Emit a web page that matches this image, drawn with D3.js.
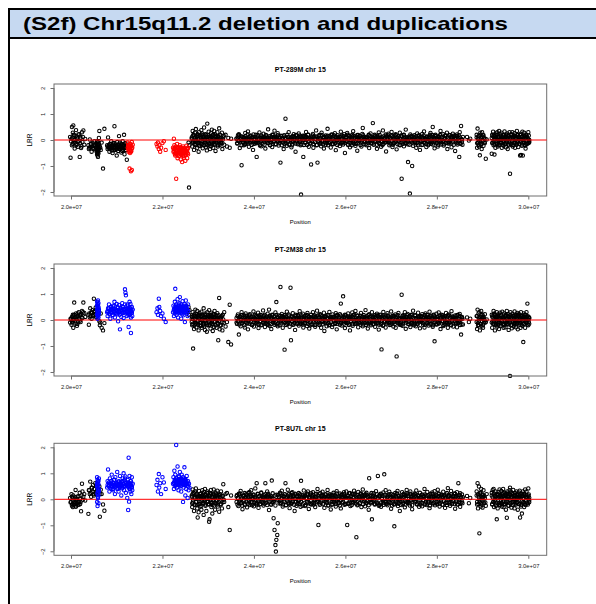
<!DOCTYPE html>
<html><head><meta charset="utf-8">
<script src="https://cdn.jsdelivr.net/npm/d3@7"></script>
<style>body{margin:0;background:#fff}svg{display:block}</style>
</head><body>
<script>
// ---------------- data ----------------
const figureTitle = "(S2f) Chr15q11.2 deletion and duplications";
const panelTitles = ["PT-289M chr 15", "PT-2M38 chr 15", "PT-8U7L chr 15"];
const xTicks = [2.0e7, 2.2e7, 2.4e7, 2.6e7, 2.8e7, 3.0e7];
const xTickLabels = ["2.0e+07", "2.2e+07", "2.4e+07", "2.6e+07", "2.8e+07", "3.0e+07"];
const yTicks = [-2, -1, 0, 1, 2];
const xLabel = "Position";
const yLabel = "LRR";

// SNP probe positions (Mb), grouped by probe block along chr15
const positionsMb = [
 [19.98,19.99,20.01,20.02,20.02,20.04,20.05,20.05,20.07,20.08,20.1,20.11,20.12,20.13,20.15,20.16,20.17,20.19,20.2,20.22,20.24,20.25,20.27,20.29,20.31],
 [20.38,20.39,20.41,20.42,20.44,20.45,20.47,20.48,20.5,20.51,20.53,20.54,20.55,20.56,20.57,20.57,20.57,20.58,20.58,20.58,20.58,20.59,20.59,20.59,20.6,20.6,20.6,20.61,20.61,20.62,20.63,20.65,20.67,20.7,20.73],
 [20.79,20.8,20.81,20.83,20.84,20.85,20.86,20.88,20.89,20.9,20.91,20.92,20.94,20.95,20.96,20.97,20.98,21.0,21.01,21.02,21.03,21.04,21.05,21.06,21.07,21.09,21.1,21.11,21.12,21.13,21.14,21.15,21.16,21.17,21.18,21.19,21.2,21.21,21.22,21.23,21.24,21.25,21.26,21.26,21.27,21.28,21.29,21.29,21.3,21.31,21.31,21.32,21.33,21.33,21.34,21.35],
 [21.87,21.89,21.9,21.92,21.93,21.95,21.97,22.0,22.03,22.07],
 [22.23,22.24,22.25,22.26,22.27,22.27,22.28,22.29,22.3,22.3,22.31,22.32,22.33,22.33,22.34,22.35,22.36,22.37,22.37,22.38,22.39,22.4,22.41,22.41,22.42,22.43,22.44,22.45,22.45,22.46,22.47,22.48,22.49,22.5,22.5,22.51,22.52,22.53,22.54,22.55,22.56,22.56,22.57,22.58,22.59],
 [22.64,22.65,22.66,22.67,22.68,22.69,22.7,22.71,22.72,22.73,22.74,22.75,22.76,22.77,22.78,22.79,22.8,22.81,22.82,22.83,22.84,22.85,22.86,22.87,22.88,22.89,22.9,22.91,22.92,22.93,22.94,22.95,22.96,22.97,22.98,23.0,23.01,23.02,23.03,23.04,23.05,23.06,23.07,23.08,23.09,23.1,23.11,23.12,23.13,23.14,23.15,23.16,23.18,23.19,23.2,23.21,23.22,23.24,23.25,23.27,23.28,23.3,23.31,23.33,23.35,23.38,23.41,23.44,23.47,23.5],
 [23.62,23.63,23.65,23.66,23.67,23.69,23.71,23.72,23.73,23.75,
  23.77,23.78,23.8,23.81,23.82,23.84,23.85,23.87,23.89,23.9,
  23.91,23.93,23.94,23.96,23.98,23.99,24.0,24.02,24.03,24.05,
  24.06,24.08,24.09,24.1,24.12,24.14,24.15,24.16,24.18,24.2,
  24.21,24.22,24.24,24.25,24.27,24.29,24.3,24.31,24.33,24.34,
  24.36,24.38,24.39,24.4,24.42,24.43,24.45,24.47,24.48,24.49,
  24.51,24.52,24.54,24.56,24.57,24.58,24.6,24.61,24.63,24.65,
  24.66,24.67,24.69,24.7,24.72,24.74,24.75,24.76,24.78,24.8,
  24.81,24.82,24.84,24.85,24.87,24.89,24.9,24.91,24.93,24.94,
  24.96,24.98,24.99,25.0,25.02,25.03,25.05,25.07,25.08,25.09,
  25.11,25.12,25.14,25.16,25.17,25.18,25.2,25.21,25.23,25.25,
  25.26,25.27,25.29,25.3,25.32,25.34,25.35,25.36,25.38,25.39,
  25.41,25.43,25.44,25.45,25.47,25.48,25.5,25.52,25.53,25.54,
  25.56,25.57,25.59,25.61,25.62,25.63,25.65,25.66,25.68,25.7,
  25.71,25.72,25.74,25.75,25.77,25.79,25.8,25.81,25.83,25.84,
  25.86,25.88,25.89,25.9,25.92,25.93,25.95,25.97,25.98,25.99,
  26.01,26.02,26.04,26.06,26.07,26.08,26.1,26.11,26.13,26.15,
  26.16,26.17,26.19,26.2,26.22,26.24,26.25,26.26,26.28,26.29,
  26.31,26.33,26.34,26.35,26.37,26.38,26.4,26.42,26.43,26.44,
  26.46,26.47,26.49,26.51,26.52,26.53,26.55,26.56,26.58,26.6,
  26.61,26.62,26.64,26.65,26.67,26.69,26.7,26.71,26.73,26.74,
  26.76,26.78,26.79,26.8,26.82,26.83,26.85,26.87,26.88,26.89,
  26.91,26.92,26.94,26.96,26.97,26.98,27.0,27.01,27.03,27.05,
  27.06,27.07,27.09,27.1,27.12,27.14,27.15,27.16,27.18,27.19,
  27.21,27.23,27.24,27.25,27.27,27.28,27.3,27.32,27.33,27.34,
  27.36,27.37,27.39,27.41,27.42,27.43,27.45,27.46,27.48,27.5,
  27.51,27.52,27.54,27.55,27.57,27.59,27.6,27.61,27.63,27.64,
  27.66,27.68,27.69,27.7,27.72,27.73,27.75,27.77,27.78,27.79,
  27.81,27.82,27.84,27.86,27.87,27.88,27.9,27.91,27.93,27.95,
  27.96,27.97,27.99,28.0,28.02,28.04,28.05,28.06,28.08,28.09,
  28.11,28.13,28.14,28.15,28.17,28.18,28.2,28.22,28.23,28.24,
  28.26,28.27,28.29,28.31,28.32,28.33,28.35,28.36,28.38,28.4,
  28.41,28.42,28.44,28.45,28.47,28.49,28.5,28.51,28.53,28.55,
  28.56,28.57],
 [28.66,28.7,28.73],
 [28.87,28.88,28.89,28.9,28.91,28.92,28.93,28.94,28.95,28.96,28.97,28.98,28.99,29.0,29.01,29.02,29.03,29.05,29.07,29.09],
 [29.2,29.21,29.22,29.23,29.24,29.25,29.26,29.27,29.28,29.29,
  29.3,29.31,29.32,29.33,29.34,29.35,29.36,29.37,29.38,29.39,
  29.4,29.41,29.42,29.43,29.44,29.45,29.46,29.47,29.48,29.49,
  29.5,29.51,29.52,29.53,29.54,29.55,29.56,29.57,29.58,29.59,
  29.6,29.61,29.62,29.63,29.64,29.65,29.66,29.67,29.68,29.69,
  29.7,29.71,29.72,29.73,29.74,29.75,29.76,29.77,29.78,29.79,
  29.8,29.81,29.82,29.83,29.84,29.85,29.86,29.87,29.88,29.89,
  29.9,29.91,29.92,29.93,29.94,29.95,29.96,29.98,30.0,30.02]
];

// log R ratio at SNP probes, PT-289M (same block order as positionsMb)
const lrr289M = [
 [.12,-.68,.05,.5,-.2,.28,.56,-.1,.18,-.33,.02,.38,-.15,.09,-.26,.21,-.05,-.65,.14,-.31,.3,-.08,.37,-.18,.04],
 [-.2,-.35,.02,-.28,-.15,-.45,-.1,-.3,-.22,-.05,-.4,-.18,-.3,-.12,-.05,-.55,-.25,-.38,-.6,-.15,-.48,-.3,-.65,-.08,-.42,-.2,-.52,-.33,.08,.35,-.25,-.38,-.1,-1.1,.43],
 [-.2,-.35,.1,-.28,-.45,-.15,-.3,-.05,-.4,-.22,-.5,-.12,-.33,.53,-.25,-.38,-.18,-.6,-.08,-.3,-.42,-.2,.15,-.35,-.1,-.27,-.48,-.15,-.32,-.05,-.38,-.22,.2,-.55,-.28,-.12,-.4,-.18,-.76,-.3,-.1,-.35,-.2,-.45,-.28,-1.1,-.15,-.5,-.38,-1.2,-.25,-.42,-.08,-1.15,-.3,-.18],
 [-.15,-.25,-.1,-.35,-.2,-.45,-.3,-.12,-.05,-.38],
 [-.3,-.45,.05,-.2,-.55,-.35,-.6,-.25,-1.49,-.4,-.5,-.15,-.38,-.7,-.28,-.45,-.62,-.32,-.52,-.2,-.42,-.75,-.3,-.55,-.48,-.85,-.36,-.6,-.25,-.44,-.68,-.33,-.5,-.8,-.4,-.58,-.22,-.46,-.7,-.35,-.55,-.3,-.1,-1.83,-.2],
 [.1,-.25,.35,-.1,.2,-.38,.05,.28,-.18,.42,-.05,.15,-.3,.22,.02,-.45,.3,-.12,.18,-.22,.08,.38,-.15,.25,-.32,.12,-.06,.48,-.2,.03,.2,-.28,.1,-.4,.63,-.08,.32,-.16,.14,-.35,.05,.26,-.22,.4,-.1,.18,-.3,.08,.35,-.14,.22,-.42,.12,-.02,.3,-.25,.15,.45,-.2,.06,-.12,.28,-.35,.1,-.18,.2,-.25,.08,-.3,.05],
 [.05,-.12,.18,-.03,.22,-.31,.09,.14,-.97,-.08,
  .11,-.2,.02,.27,-.15,.07,-.05,.33,-.26,.01,
  -.1,.16,-.02,.08,-.38,.21,.04,-.14,.12,-.07,
  -.65,.19,-.09,.03,.29,-.18,.06,-.24,.13,-.01,
  .24,-.06,.1,-.33,.17,.02,-.12,.41,-.04,.08,
  -.19,.13,0,-.27,.2,-.08,.36,.05,-.15,.11,
  -.03,.26,-.21,.09,-.11,-.87,.15,-.02,.07,-.35,
  .18,-.13,.82,.04,-.22,.12,-.06,.3,-.17,.01,
  .09,-.28,.14,-.04,.22,-.1,.06,-.45,.17,.03,
  -.16,.25,-.07,.11,-.2,-2.1,.08,.16,-.65,.02,
  .13,-.09,.31,-.18,.05,.2,-.26,.07,-.12,-.94,
  .1,-.04,.23,-.3,.14,-.08,.04,.37,-.19,-.87,
  .06,.19,-.14,.02,-.24,.28,-.05,.12,-.33,.08,
  -.02,.17,-.11,.43,-.2,.05,-.08,.15,-.29,.1,
  .21,-.15,.03,-.06,.26,-.39,.11,-.01,.18,-.13,
  .07,-.23,.14,.32,-.1,.04,-.17,.22,-.04,-.5,
  .12,-.07,.27,-.19,.01,.16,-.28,.09,-.12,.2,
  -.06,.34,-.14,.08,-.22,.13,.02,-.41,.19,-.03,
  .15,-.1,.05,-.25,.23,.46,-.16,.07,-.06,.11,
  -.2,.09,-.04,.18,-.31,.03,.25,-.12,.06,.65,
  .04,-.18,.2,-.07,.12,-.34,.16,-.02,.29,-.14,
  .08,-.26,.11,-.05,.37,-.15,.02,-.09,.21,-.44,
  .14,-.03,.24,-.2,.06,.1,-.13,.31,-.27,.05,
  -.11,.17,-.06,.22,-.36,.08,-.01,.13,-.19,.28,
  .03,-1.49,.15,-.08,.19,-.24,.07,.4,-.12,.01,
  -.16,-.85,.1,-2.06,.21,-.05,.12,-1.0,-.22,.09,
  .18,-.07,.02,-.3,.25,-.13,.06,.16,-.38,.11,
  -.04,.23,-.18,.08,.33,-.1,.01,-.27,.14,.05,
  -.2,.12,-.06,.27,-.15,.04,.19,.5,-.09,-.32,
  .07,.2,-.13,.02,-.25,.15,.09,-.04,.35,-.17,
  .1,-.08,.22,-.21,.03,.17,-.11,.28,-.35,.06,
  -.14,.18,-.03,.11,-.28,.07,.24,-.09,.13,-.42,
  .16,-.05,.21,-.17,.08,-.65,.3,-.12,.54,.02,
  -.18,.12],
 [.12,-.02,.05],
 [.2,-.3,.44,-.1,.15,-.25,.05,-.59,.28,-.18,.1,-.35,.3,-.05,.18,-.22,.08,-.12,-.72,.02],
 [-.53,.2,-.1,.32,-.2,.05,-.56,.15,-.3,.25,
  .08,-.15,.3,-.25,.12,-.05,.35,-.18,.02,.22,
  -.12,.28,-.3,.1,-.02,.18,-.22,.05,.33,-.15,
  .12,-.28,.2,-.08,.25,-.35,.06,.15,-.2,.3,
  -1.3,.1,-.16,.22,-.04,.3,-.25,.08,.18,-.12,
  .26,-.3,.05,.14,-.18,.35,-.08,.2,-.27,.1,
  .02,-.15,-.6,.24,-.58,.12,-.22,.32,-.6,.06,
  -.1,.28,-.2,.15,-.33,.2,.08,-.14,.3,-.05]
];

// log R ratio at SNP probes, PT-2M38
const lrr2M38 = [
 [-.1,.05,-.18,.12,-.05,.2,.02,-.3,.67,.1,-.14,.25,.04,-.22,.15,-.08,.3,.18,-.02,.22,.35,.08,.67,.27,.12],
 [.2,-.18,.1,.45,.28,.05,.38,.15,.82,.3,.22,.48,.12,.4,.55,.2,.7,.35,.05,.62,.45,.15,.75,.3,.5,.1,.65,.4,.25,-.05,-.2,.25,-.3,-.4,-.12],
 [.3,.15,.45,.6,.22,.38,.05,.5,.28,.42,.18,.55,.33,.7,.1,.4,.25,.62,.35,.48,-.05,.3,.58,.2,-.36,.45,.12,.38,.65,.27,.5,.08,.42,.3,1.18,1.05,.95,.35,.15,.6,.55,.2,.4,-.27,.25,.7,.45,.2,.62,.1,-.5,.35,.5,.28,.15,.4],
 [.3,.45,.2,.82,.5,.35,.15,.25,.05,-.08],
 [.3,.55,.15,.42,.7,.25,1.2,.5,.35,.6,.2,.45,.8,.38,.1,.55,.28,.65,.4,.88,.5,.32,.05,.6,.45,.22,.72,.35,.52,.18,.4,.62,-.08,.48,.3,.75,.55,.25,.42,.15,.6,.35,.5,.2,.38],
 [.05,-.2,.3,-1.1,.15,-.35,.22,-.08,.4,-.15,-.28,.12,.35,-.05,.18,-.4,.08,.27,-.22,.14,-.1,.32,-.3,.02,.2,-.18,.45,-.25,.1,-.38,.25,-.12,.06,-.45,.3,.13,-.2,.38,-.06,.17,-.33,.09,.28,-.15,.04,-.42,.22,.11,-.27,.35,-.08,.19,-.3,.07,.26,-.14,-.78,.85,-.36,.1,-.2,.15,-.4,.02,.3,-.25,-.08,-.85,.59,-.94],
 [.08,-.15,.21,-.06,-.56,.13,-.24,.02,.3,-.11,
  -.03,.18,-.29,.09,.25,-.12,.05,-.36,.14,.01,
  .22,-.07,.11,-.19,.04,.33,-.25,.07,-.02,.16,
  -.14,.06,.28,-.31,.12,-.05,.19,-.2,.03,.37,
  -.09,.15,-.27,.1,.01,-.16,.24,-.04,.4,-.22,
  .13,-.35,.07,.2,-.1,.02,-.18,.29,-.06,.69,
  .11,-.24,.17,-.02,.06,1.27,-.13,.23,-.3,.09,
  -.07,-1.14,.14,-.19,.32,.04,-.11,.21,-.26,1.24,
  -.78,.12,-.05,.26,-.17,.08,-.38,.15,.03,-.1,
  .19,-.21,.06,.34,-.08,-.14,.1,.24,-.29,.05,
  -.12,.16,.02,-.23,.27,-.04,.13,-.33,.08,.2,
  -.16,.05,.3,-.09,.18,-.26,.11,-.02,.36,-.14,
  .07,-.19,.23,.01,-.3,.15,-.07,.09,.28,-.42,
  .14,-.05,-.24,.19,.04,-.12,.31,-.18,.06,.1,
  -.27,.21,-.03,.12,-.15,.26,.02,-.36,.17,-.08,
  .05,.22,-.13,.63,-.21,.09,.91,-.06,.14,-.31,
  .18,-.1,.03,.25,-.17,.07,-.4,.12,-.04,.29,
  -.22,.11,.2,-.07,.35,-.14,.01,.16,-.28,.06,
  .09,-.18,.27,-.03,.13,-.24,.19,.04,-.12,.38,
  -.06,.15,-.33,.1,.22,-.09,.03,-.2,.3,-.15,
  .12,-.04,.18,-.26,.07,.24,-.11,.14,-.37,.02,
  .2,-.16,-1.13,.08,-.22,.31,-.05,.13,-.29,.17,
  -.1,.26,-.02,.11,-.19,.04,.33,-.14,.07,-.25,
  .16,-.08,.21,-.3,-1.4,.12,-.03,.27,-.17,.06,
  -.12,.97,.1,-.22,.18,-.06,.3,-.34,.09,.02,
  .23,-.15,.05,.14,-.27,.19,-.01,-.09,.36,-.2,
  .04,.17,-.24,.08,-.13,.28,-.05,.11,-.32,.15,
  -.07,.22,.01,-.18,.13,-.29,.25,.06,-.11,.19,
  .1,-.21,.32,-.04,.16,-.14,.07,-.26,.2,-.82,
  .14,-.09,.24,-.17,.03,.29,-.12,.08,-.35,.11,
  -.05,.18,-.23,.13,.02,-.16,.27,-.08,.15,-.3,
  .21,-.11,.06,-.2,.34,-.03,.12,-.25,.09,.17,
  -.14,.07,-.28,.19,.04,-.1,.23,-.19,-.56,.12,
  .05,-.17],
 [.1,-.08,.05],
 [.15,-.35,.4,-.2,.25,-.05,.3,-.4,.1,-.15,.35,-.25,.05,.2,-.3,.12,-.1,.22,-.08,.02],
 [.2,-.3,.1,-.15,.35,-.05,.25,-.4,.12,-.2,
  .05,.3,-.25,.15,-.1,.22,-.35,.08,.28,-.12,
  .18,-.22,.02,.32,-.18,.1,-.3,.25,-.05,.14,
  -.28,.2,-.08,.35,-.15,.06,.22,-.38,.12,-.02,
  -2.15,.3,-.2,.1,-.32,.24,-.06,.16,-.25,.08,
  .33,-.12,.05,-.28,.2,-.1,.27,-.36,.14,-.04,
  .22,-.18,.1,-.3,.3,-.08,.15,-.22,.06,-.85,
  .25,-.14,.12,-.3,.2,-.05,.3,.63,-.2,.1]
];

// log R ratio at SNP probes, PT-8U7L
const lrr8U7L = [
 [.05,-.12,.2,-.25,.1,-.3,-.05,.15,-.2,-.1,.36,-.28,-.15,.02,-.22,.12,-.08,.25,-.18,-.46,.6,.3,.1,.2,-.05],
 [-.56,.35,.2,.68,.1,.45,.28,.55,.15,.4,.62,.22,.5,.3,.85,-.1,.6,.25,.75,-.26,.45,.05,.7,.35,-.15,.58,.15,.8,.4,.5,-.67,.37,.2,-.2,-.44],
 [.45,.7,1.15,.55,.3,.8,.6,.4,.95,.5,.65,.35,.75,.55,.2,.85,.5,.62,1.05,.4,.58,.3,.7,.45,.9,.52,.15,.68,.42,.8,.6,1.0,.35,.72,.5,.88,.25,.65,.55,.05,.75,-.41,.48,1.6,-.09,.9,.4,.62,.3,.7,.55,.2,.85,.45,.35,.6],
 [.55,.75,.3,.97,.45,.62,.2,.85,.65,.4],
 [.6,.85,.4,1.1,.7,.5,.95,.65,2.09,.55,.8,.45,1.26,.6,.75,.35,.9,.55,.7,1.05,.5,.8,.65,.3,.95,.6,.72,-.1,.85,.45,.68,1.23,.55,.15,.78,.62,.4,.9,.58,.05,.7,.5,.35,.6,.45],
 [.15,-.3,.38,-.12,.25,-.45,.08,.3,-.22,.42,-.1,.2,-.35,-.7,.05,-.5,.32,-.18,.12,-.28,.22,-.4,.1,.35,-.15,.02,-.6,.28,-.08,.4,-.25,.16,-.45,.06,.3,-.2,.14,-.86,-.77,.24,-.12,.36,-.3,.1,-.55,.2,-.05,.38,-.24,.12,-.4,.26,-.15,.05,.33,-.28,.18,-.48,.09,-.2,.3,-.35,.12,.58,-.1,.2,.24,-.3,-1.18,.15],
 [-.1,.17,.04,-.26,.21,-.05,.32,-.15,.08,-.38,
  .13,-.02,.24,-.19,.06,.15,-.31,.1,-.07,.28,
  -.22,.09,.35,-.12,.01,.19,-.27,.05,.42,-.16,
  .62,-.08,.2,-.33,.12,.03,-.18,.26,-.04,.11,
  -.24,.16,.07,.62,-.13,.3,-.06,.21,-.41,.09,
  .14,-.2,.72,.05,-.1,-.73,-1.18,-1.76,-2.01,-1.56,
  -1.37,-.92,.18,-.07,.25,-.15,.04,.33,-.28,.12,
  -.05,.2,.62,-.22,.09,.37,-.13,.02,-.34,.16,
  .08,-.17,.27,-.09,.14,-.45,.21,.03,-.25,.1,
  -.12,.24,-.03,.18,-.29,.71,.11,-.19,.06,.34,
  .15,-.26,.04,.22,-.11,.3,-.37,.08,.17,-.06,
  -.2,.12,.27,-.14,.03,-.3,.19,.09,-.08,.4,
  -.99,.07,-.21,.23,.13,-.04,.29,-.16,.05,-.33,
  .18,-.1,.02,.36,-.24,.11,-.07,.2,-.39,.14,
  .06,-.18,.25,-.02,.16,-.28,.09,.31,-.13,.01,
  -.15,.22,.1,-.35,.04,.19,-.09,.27,-.21,.13,
  .08,.3,-.99,.14,-.17,.05,.24,-.26,.11,-.03,
  .2,-.12,.33,-.07,.16,-1.46,.02,-.23,.28,.1,
  -.16,.07,.21,-.3,.12,.38,-.05,.17,-.27,.04,
  .25,-.14,.09,-.4,.81,.02,.18,-.11,-.77,.13,
  -.06,.23,-.2,.1,.31,-.15,.04,.9,-.25,.16,
  .12,-.29,.19,.01,-.13,.26,.96,-.08,.35,-.18,
  .07,-.23,.14,.29,-.1,.03,-.36,.2,-.04,.17,
  -.19,-1.04,.24,-.12,.08,.32,-.26,.15,-.02,-.45,
  .11,-.07,.27,-.18,.05,.21,-.31,.13,-.09,.36,
  -.14,.19,.02,-.24,.3,-.06,.12,-.38,.17,.04,
  .22,-.11,.08,.34,-.2,.14,-.03,-.29,.25,-.15,
  .1,-.27,.18,-.05,.13,.4,-.17,.06,-.22,.28,
  -.08,.16,-.34,.21,.03,-.13,.26,-.19,.09,.31,
  -.23,.12,.05,-.16,.37,-.09,.2,-.28,.15,-.02,
  .18,-.21,.29,-.06,.11,-.33,.07,.24,-.14,.43,
  -.1,.15,-.25,.32,.04,-.18,.13,-.07,.22,-.36,
  .09,-.12,.27,-.2,.62,-.03,.16,-.29,.1,.19,
  -.15,.08],
 [.13,-.15,.05],
 [.3,-.2,.62,-.35,.15,.49,-1.31,-.1,.25,-.28,.4,-.05,.18,-.32,.1,.35,-.15,.05,-.25,.2],
 [.25,-.2,.35,-.1,.4,-.3,.15,-.05,.3,-.25,
  .1,-.77,.2,-.35,.05,.28,-.15,.38,-.22,.12,
  -.08,.32,-.28,.18,-.12,.4,-.3,.08,.25,-.18,
  .14,-.4,.22,-.71,.3,-.1,.2,-.25,.06,.35,
  .45,-.15,.28,-.32,.1,.2,-.22,.36,-.05,.15,
  -.35,.24,.02,-.2,.3,-.12,.18,-.4,.1,.26,
  -.18,.33,-.7,.05,-.28,.22,-.55,.12,.3,-.1,
  .2,-.3,.15,.38,-.22,.08,.3,-.15,.42,-.05]
];

// copy-number-only probe positions (Mb), second probe set of the array
const cnPositionsMb = [
 [20.0,20.03,20.04,20.06,20.07,20.09,20.1,20.12,20.14,20.15,20.18,20.2,20.21,20.23,20.26],
 [20.4,20.43,20.46,20.49,20.52,20.56,20.57,20.58,20.58,20.59,20.59,20.6,20.6,20.61,20.64],
 [20.8,20.82,20.83,20.85,20.87,20.87,20.88,20.9,20.91,20.93,20.94,20.95,20.97,20.99,21.0,21.01,21.03,21.04,21.06,21.08,21.08,21.1,21.12,21.13,21.15,21.16,21.18,21.19,21.2,21.22,21.24,21.25,21.26,21.27,21.28,21.29,21.3,21.31,21.32,21.33],
 [22.25,22.26,22.27,22.28,22.29,22.3,22.31,22.32,22.33,22.34,22.35,22.36,22.37,22.38,22.39,22.4,22.41,22.42,22.43,22.44,22.45,22.46,22.47,22.48,22.49,22.5,22.51,22.52,22.53,22.55],
 [22.64,22.65,22.66,22.67,22.68,22.7,22.71,22.72,22.73,22.75,22.76,22.77,22.78,22.79,22.8,22.82,22.83,22.84,22.85,22.86,22.87,22.89,22.9,22.91,22.92,22.93,22.94,22.96,22.97,22.98,22.99,23.0,23.01,23.02,23.04,23.05,23.06,23.07,23.08,23.09,23.11,23.12,23.13,23.14,23.15,23.16,23.17,23.18,23.2,23.21,23.22,23.23,23.24,23.25,23.26,23.28,23.29,23.31,23.32,23.34],
 [23.62,23.64,23.65,23.67,23.68,23.7,23.71,23.73,23.74,23.76,
  23.77,23.79,23.8,23.82,23.83,23.84,23.86,23.87,23.88,23.9,
  23.92,23.93,23.95,23.96,23.97,23.99,24.01,24.02,24.04,24.05,
  24.07,24.08,24.1,24.11,24.13,24.14,24.16,24.17,24.19,24.2,
  24.22,24.23,24.25,24.26,24.28,24.29,24.31,24.32,24.34,24.35,
  24.37,24.38,24.4,24.41,24.43,24.44,24.46,24.47,24.49,24.5,
  24.52,24.53,24.55,24.56,24.58,24.59,24.61,24.62,24.64,24.65,
  24.67,24.68,24.7,24.71,24.73,24.74,24.76,24.77,24.79,24.8,
  24.82,24.83,24.85,24.86,24.88,24.89,24.91,24.92,24.94,24.95,
  24.97,24.98,25.0,25.01,25.03,25.04,25.06,25.07,25.09,25.1,
  25.12,25.13,25.15,25.16,25.18,25.19,25.21,25.22,25.24,25.25,
  25.27,25.28,25.3,25.31,25.33,25.34,25.36,25.37,25.39,25.4,
  25.42,25.43,25.45,25.46,25.48,25.49,25.51,25.52,25.54,25.55,
  25.57,25.58,25.6,25.61,25.63,25.64,25.66,25.67,25.69,25.7,
  25.72,25.73,25.75,25.76,25.78,25.79,25.81,25.82,25.84,25.85,
  25.87,25.88,25.9,25.91,25.93,25.94,25.96,25.97,25.99,26.0,
  26.02,26.03,26.05,26.06,26.08,26.09,26.11,26.12,26.14,26.15,
  26.17,26.18,26.2,26.21,26.23,26.24,26.26,26.27,26.29,26.3,
  26.32,26.33,26.35,26.36,26.38,26.39,26.41,26.42,26.44,26.45,
  26.47,26.48,26.5,26.51,26.53,26.54,26.56,26.57,26.59,26.6,
  26.62,26.63,26.65,26.66,26.68,26.69,26.71,26.72,26.74,26.75,
  26.77,26.78,26.8,26.81,26.83,26.84,26.86,26.87,26.89,26.9,
  26.92,26.93,26.95,26.96,26.98,26.99,27.01,27.02,27.04,27.05,
  27.07,27.08,27.1,27.11,27.13,27.14,27.16,27.17,27.19,27.2,
  27.22,27.23,27.25,27.26,27.28,27.29,27.31,27.32,27.34,27.35,
  27.37,27.38,27.4,27.41,27.43,27.44,27.46,27.47,27.49,27.5,
  27.52,27.53,27.55,27.56,27.58,27.59,27.61,27.62,27.64,27.65,
  27.67,27.68,27.7,27.71,27.73,27.74,27.76,27.77,27.79,27.8,
  27.82,27.83,27.85,27.86,27.88,27.89,27.91,27.92,27.94,27.95,
  27.97,27.98,28.0,28.01,28.03,28.04,28.06,28.07,28.09,28.1,
  28.12,28.13,28.15,28.16,28.18,28.19,28.21,28.22,28.24,28.25,
  28.27,28.28,28.3,28.31,28.33,28.34,28.36,28.37,28.39,28.4,
  28.42,28.43,28.45,28.46,28.48,28.49,28.51,28.52,28.54,28.55],
 [28.87,28.88,28.9,28.91,28.92,28.93,28.95,28.96,28.97,28.98,29.0,29.01,29.02,29.04,29.06],
 [29.2,29.21,29.22,29.24,29.25,29.26,29.27,29.29,29.3,29.31,
  29.32,29.34,29.35,29.36,29.37,29.39,29.4,29.41,29.42,29.44,
  29.45,29.46,29.47,29.49,29.5,29.51,29.52,29.54,29.55,29.56,
  29.57,29.59,29.6,29.61,29.62,29.64,29.65,29.66,29.67,29.69,
  29.7,29.71,29.72,29.74,29.75,29.76,29.77,29.79,29.8,29.81,
  29.82,29.84,29.85,29.86,29.87,29.89,29.9,29.91,29.92,29.94,
  29.95,29.96,29.97,29.98,29.99,30.0,30.01,30.01,30.02,30.02]
];

const cnLrr289M = [
 [-.05,.1,-.15,.2,0,-.1,.15,-.2,.05,-.08,.22,-.12,.08,-.25,.12],
 [-.3,-.15,-.25,-.35,-.2,-.3,-.4,-.2,-.5,-.3,-.45,-.25,-.35,-.15,-.3],
 [-.25,-.3,-.2,-.35,-.15,-.28,-.22,-.32,-.18,-.4,-.26,-.12,-.3,-.24,-.36,-.2,-.28,-.16,-.34,-.22,-.3,-.18,-.42,-.25,-.2,-.32,-.14,-.27,-.38,-.23,-.3,-.2,-.35,-.25,-.4,-.15,-.3,-.45,-.22,-.32],
 [-.35,-.45,-.3,-.5,-.4,-.55,-.38,-.42,-.6,-.32,-.48,-.36,-.52,-.44,-.28,-.46,-.4,-.58,-.34,-.5,-.42,-.62,-.38,-.45,-.3,-.55,-.4,-.48,-.35,-.5],
 [.05,-.1,.15,-.05,.2,-.15,.1,-.2,0,.12,-.08,.18,-.12,.06,-.22,.14,-.04,.1,-.16,.2,-.06,.08,-.18,.16,.02,-.1,.22,-.14,.04,-.2,.12,-.02,.18,-.12,.08,-.24,.14,-.06,.1,-.16,.2,-.08,.04,-.18,.12,-.02,.16,-.1,.06,-.2,.14,-.04,.1,-.14,.2,-.06,.08,-.12,.02,.16],
 [.06,-.14,.1,-.04,.18,-.09,.02,-.2,.13,-.06,
  -.11,.08,-.17,.15,.01,-.07,.21,-.13,.04,.11,
  .16,-.02,-.19,.07,.12,-.15,.05,-.08,.2,-.12,
  -.05,.14,-.1,.03,-.21,.09,.17,-.03,-.14,.06,
  .12,-.18,.04,.19,-.07,.1,-.12,.02,.15,-.2,
  -.09,.05,.2,-.15,.08,-.03,.13,-.17,.01,.1,
  .18,-.06,-.13,.11,-.01,.16,-.2,.07,-.1,.14,
  -.16,.09,.03,-.12,.2,-.05,.11,-.18,.06,-.02,
  .1,-.2,.15,-.07,.04,.12,-.14,.19,-.04,.08,
  -.13,.02,.17,-.09,.13,-.16,.06,.01,-.19,.16,
  .07,-.11,.12,-.18,.05,.2,-.06,.09,-.14,.03,
  -.02,.17,-.15,.1,-.08,.04,.14,-.2,.11,-.05,
  .15,-.08,.06,-.13,.19,-.01,-.16,.08,.12,-.1,
  -.18,.11,-.04,.16,.02,-.12,.09,-.07,.2,-.15,
  .04,-.16,.18,-.03,-.1,.13,.07,-.19,.1,.01,
  -.07,.12,-.14,.05,.17,-.09,.02,.15,-.12,.08,
  .11,-.04,.2,-.17,.06,-.11,.14,-.02,-.2,.13,
  -.1,.16,-.06,.09,-.15,.03,.19,-.13,.07,-.01,
  .14,-.19,.08,-.05,.12,.18,-.08,.04,-.16,.1,
  -.03,.07,-.12,.2,-.09,.15,-.01,-.14,.11,.05,
  .09,-.13,.16,-.06,.03,-.18,.12,.06,-.11,.19,
  -.15,.04,.1,-.2,.14,-.02,.08,-.1,.17,-.07,
  .02,.18,-.09,.13,-.14,.07,-.04,.16,-.18,.11,
  -.12,.06,.19,-.07,.1,-.16,.15,-.03,.04,-.2,
  .17,-.1,.03,-.15,.2,.05,-.12,.11,-.06,.09,
  -.04,.13,-.18,.08,-.01,.16,-.09,.14,-.13,.02,
  .11,-.07,.15,-.12,.06,-.2,.18,.01,-.05,.13,
  -.19,.1,-.02,.17,-.11,.07,.04,-.15,.12,-.06,
  .08,-.14,.2,-.04,.13,-.09,-.17,.1,.03,.16,
  -.06,.15,-.11,.05,-.18,.12,.02,.19,-.08,-.13,
  .13,-.03,.09,-.16,.07,.17,-.12,-.01,.14,-.1,
  -.08,.19,-.13,.04,.11,-.06,.16,-.18,.05,.09,
  .05,-.12,.14,-.09,.18,-.02,.1,-.15,.03,-.07],
 [.1,-.12,.05,-.18,.15,-.05,.2,-.1,.08,-.15,.12,-.02,.18,-.08,.05],
 [.08,-.12,.15,-.05,.2,-.16,.03,.11,-.09,.18,
  -.14,.06,-.2,.13,.01,-.07,.17,-.11,.04,-.18,
  .12,-.03,.19,-.15,.07,-.1,.14,-.02,.09,-.17,
  .16,-.08,.05,-.13,.2,-.04,.1,-.19,.02,.13,
  -.06,.15,-.12,.08,-.16,.18,-.01,.11,-.14,.05,
  .19,-.09,.03,-.17,.12,-.05,.16,-.11,.07,-.2,
  .1,-.15,.14,-.03,.06,-.12,.17,-.07,.01,-.1]
];

const cnLrr2M38 = [
 [.05,-.1,.15,0,.2,-.05,.12,.1,-.15,.25,.05,.18,-.08,.1,.3],
 [.25,.15,.3,.2,.35,.1,.4,.25,.55,.3,.6,.2,.45,.35,-.1],
 [.35,.3,.45,.25,.4,.5,.3,.38,.2,.42,.32,.55,.28,.4,.35,.22,.48,.3,.36,.45,.25,.4,.33,.5,.28,.38,.6,.3,.42,.35,.3,.45,.25,.4,.2,.35,.5,.3,.4,.28],
 [.4,.35,.5,.3,.45,.55,.38,.42,.3,.48,.36,.6,.4,.33,.5,.44,.28,.52,.4,.35,.46,.3,.55,.4,.38,.5,.32,.45,.4,.35],
 [-.08,.12,-.15,.05,.18,-.2,.02,.15,-.1,.22,-.05,.1,-.18,.08,.2,-.12,.04,-.22,.14,-.02,.16,-.1,.06,-.16,.2,-.04,.12,-.14,.08,-.2,.02,.18,-.08,.14,-.18,.06,-.12,.2,-.02,.1,-.16,.08,.22,-.06,.12,-.2,.04,.16,-.1,.02,-.14,.18,-.04,.1,-.22,.06,.14,-.08,.2,-.12],
 [-.1,.15,-.03,.08,-.17,.12,.05,-.13,.19,-.06,
  .09,-.2,.13,.02,-.08,.16,-.14,.07,-.02,.18,
  -.15,.06,.11,-.19,.03,.14,-.07,.2,-.11,.01,
  .12,-.09,-.16,.17,.05,-.04,.1,-.18,.15,-.12,
  -.02,.2,-.13,.06,.14,-.1,-.19,.09,.03,.16,
  .07,-.15,.18,-.08,-.01,.13,-.12,.04,.19,-.17,
  -.14,.1,.02,-.2,.16,-.05,.08,.15,-.09,.11,
  .19,-.11,.06,.13,-.16,.01,-.07,.17,-.13,.04,
  -.05,.14,-.18,.09,.02,-.12,.2,-.03,.1,-.15,
  .16,-.01,.11,-.14,.07,.18,-.1,-.17,.05,.12,
  -.12,.08,-.06,.19,-.15,.03,.13,-.09,-.2,.1,
  .04,-.17,.15,-.02,.12,-.19,.06,.14,-.07,.17,
  -.09,.11,-.14,.2,-.04,.08,-.16,.02,.13,-.11,
  .14,-.06,.09,-.13,.18,-.2,.03,.11,-.08,.05,
  -.17,.13,-.01,.07,-.11,.16,-.15,.19,.01,-.06,
  .1,-.18,.17,-.1,.04,-.03,.12,-.14,.2,-.09,
  -.03,.09,-.12,.14,-.19,.11,.06,-.07,.15,-.16,
  .18,-.04,.02,-.15,.1,-.13,.17,.05,-.1,.08,
  -.11,.16,-.08,.03,.13,-.17,-.02,.12,.07,-.19,
  .06,-.13,.19,-.06,-.14,.1,.15,-.11,-.03,.14,
  -.16,.02,.12,-.09,.17,-.05,-.13,.18,-.18,.07,
  .11,-.1,-.04,.15,-.2,.13,.09,-.06,.02,-.14,
  -.07,.17,.05,-.12,.08,-.18,.14,-.01,.16,-.09,
  .13,-.15,.1,.01,-.06,.19,-.11,.07,-.17,.04,
  -.19,.06,.16,-.14,.11,-.02,.03,-.1,.12,.18,
  .02,-.08,-.17,.13,.06,-.12,.2,-.16,.09,-.04,
  -.13,.18,.07,-.05,-.16,.1,-.09,.15,-.01,.12,
  .15,-.03,-.12,.09,.19,-.18,.05,.11,-.14,.01,
  -.08,.12,.14,-.17,.02,.07,-.2,.04,.17,-.1,
  .1,-.16,.04,.12,-.09,-.14,.16,-.05,.08,.2,
  -.04,.13,-.19,.06,.15,-.07,.01,-.12,.18,-.15,
  .17,-.09,.08,-.18,.03,.14,-.13,.1,-.06,.05,
  -.12,.05,.19,-.11,-.04,.16,-.08,.13,-.17,.09],
 [-.08,.15,-.12,.1,-.2,.05,.12,-.15,.18,-.05,.08,-.18,.1,.02,-.1],
 [-.1,.14,-.06,.18,-.13,.05,.2,-.16,.09,-.02,
  .12,-.18,.03,-.09,.16,-.12,.07,.19,-.05,.1,
  -.15,.08,-.2,.13,-.03,.17,-.11,.04,-.17,.14,
  .02,-.13,.18,-.07,.1,-.19,.06,.15,-.08,-.14,
  .17,-.04,.11,-.16,.05,-.1,.2,-.02,.13,-.12,
  -.06,.16,-.18,.09,-.01,.14,-.15,.07,.19,-.09,
  .04,-.11,.12,-.17,.15,.01,-.08,.1,-.14,.06]
];

const cnLrr8U7L = [
 [-.1,-.18,.05,-.22,-.15,.08,-.28,-.05,.1,-.12,-.2,0,-.1,.15,-.02],
 [.35,.25,.45,.2,.4,.3,.5,.2,.65,.1,.55,.35,.7,.3,.2],
 [.55,.5,.65,.45,.6,.7,.5,.58,.4,.62,.52,.75,.48,.6,.55,.42,.68,.5,.56,.65,.45,.6,.53,.7,.48,.58,.8,.5,.62,.55,.5,.65,.45,.6,.4,.55,.7,.5,.6,.48],
 [.65,.6,.75,.55,.7,.8,.62,.68,.55,.72,.6,.85,.65,.58,.75,.7,.52,.78,.65,.6,.72,.55,.8,.65,.62,.75,.58,.7,.65,.6],
 [.1,-.15,.2,-.05,.25,-.2,.05,.15,-.1,.18,-.22,.08,.12,-.18,.02,.2,-.12,.06,-.25,.14,-.06,.22,-.16,.1,-.02,.16,-.2,.04,.12,-.1,.24,-.08,.06,-.18,.14,-.04,.2,-.14,.08,-.22,.1,-.02,.18,-.12,.04,-.16,.22,-.06,.12,-.2,.06,-.1,.16,-.04,.2,-.18,.08,-.12,.14,-.02],
 [.12,-.2,.05,.18,-.1,.22,-.15,.02,-.24,.14,
  -.06,.16,-.21,.09,.2,-.12,.04,-.18,.24,-.03,
  .19,-.09,.13,-.23,.06,.17,-.14,.1,-.01,-.2,
  -.15,.21,-.05,.12,-.19,.03,.24,-.1,.08,-.13,
  .07,-.17,.2,-.02,.14,-.22,.1,.16,-.08,.04,
  -.2,.11,-.12,.23,.01,-.07,.15,-.24,.18,-.04,
  .16,-.02,.09,-.16,.22,-.13,.06,.12,-.2,.11,
  -.1,.19,-.23,.05,-.06,.14,-.17,.21,.03,-.15,
  .24,-.12,.08,.15,-.21,.02,.18,-.09,.12,-.18,
  -.04,.13,-.16,.2,-.1,.07,-.25,.16,-.02,.1,
  .14,-.22,.03,-.08,.19,-.15,.11,.05,-.18,.23,
  -.13,.07,.17,-.2,.09,-.03,.21,-.11,.15,-.06,
  .02,-.16,.23,-.12,.06,.18,-.19,.13,-.07,.1,
  .2,-.05,-.14,.11,-.23,.15,-.01,.08,.17,-.21,
  -.09,.18,-.11,.04,.14,-.18,.22,-.06,.01,-.14,
  .11,-.24,.16,-.03,.09,-.12,.05,.2,-.17,.07,
  -.18,.06,.12,-.15,.23,-.08,-.02,.14,-.22,.19,
  .05,-.11,.21,-.07,-.16,.1,.17,-.2,.08,-.01,
  -.14,.22,-.04,.16,.03,-.19,.12,-.09,.2,-.12,
  .17,-.07,.1,-.22,.13,-.02,-.15,.24,-.1,.06,
  -.03,.15,-.18,.08,-.12,.2,.04,-.16,.11,-.23,
  .21,-.13,.06,.14,-.07,-.21,.18,.02,-.11,.16,
  -.16,.1,-.09,.2,.05,-.14,.09,-.24,.15,.01,
  .08,-.19,.14,-.05,.22,-.1,-.17,.12,.03,-.08,
  -.22,.04,.18,-.13,.1,.16,-.06,-.2,.19,-.11,
  .13,-.08,-.15,.21,-.02,.07,-.23,.11,-.04,.17,
  -.07,.2,.01,-.18,.16,-.12,.13,.06,-.21,.09,
  .18,-.14,.11,-.04,-.2,.19,-.09,.15,.02,-.16,
  -.12,.07,-.24,.14,.09,-.06,.2,-.13,.12,.04,
  .03,.17,-.1,-.19,.12,.22,-.16,.05,-.08,.15,
  -.2,.09,.16,-.07,.04,-.14,.18,-.22,.1,-.03,
  .14,-.16,.02,.19,-.12,.08,-.05,.13,-.18,.21,
  -.05,.12,-.19,.07,.15,-.1,.23,-.14,.06,-.09],
 [.15,-.1,.2,-.18,.08,-.05,.22,-.15,.1,-.2,.05,.18,-.08,.12,-.12],
 [.15,-.18,.08,-.1,.22,-.05,.12,-.2,.18,-.13,
  .04,.2,-.15,.1,-.22,.16,-.02,.08,-.17,.23,
  -.08,.13,-.19,.05,.17,-.12,.21,-.06,.1,-.24,
  .14,-.03,.19,-.16,.07,-.11,.24,-.09,.12,.02,
  -.2,.16,-.04,.11,-.14,.2,-.1,.06,-.18,.15,
  .09,-.22,.13,-.07,.18,-.13,.03,.21,-.16,.1,
  -.05,.17,-.12,.08,-.2,.14,-.01,.19,-.11,.06]
];

// called CNV regions (Mb) per sample
const calls289M = [[21.235, 22.565]];                                     // deletion
const calls2M38 = [[20.565, 20.615], [20.775, 21.36], [21.85, 22.565]];   // duplication
const calls8U7L = [[20.565, 20.615], [20.775, 21.36], [21.85, 22.6]];     // duplication
const callColors = ["#ff0000", "#0000ff", "#0000ff"];

// ---------------- drawing ----------------
const W = 596, H = 604;
const FONT = "'Liberation Sans', Arial, Helvetica, sans-serif";
const svg = d3.select("body").append("svg").attr("width", W).attr("height", H)
  .style("font-family", FONT);
svg.append("rect").attr("width", W).attr("height", H).attr("fill", "#fff");

// header bar
svg.append("rect").attr("x", 9).attr("y", 9).attr("width", W - 9).attr("height", 29).attr("fill", "#c6d9f1");
svg.append("line").attr("x1", 8).attr("x2", W).attr("y1", 9).attr("y2", 9).attr("stroke", "#000").attr("stroke-width", 2);
svg.append("line").attr("x1", 8).attr("x2", W).attr("y1", 38).attr("y2", 38).attr("stroke", "#000").attr("stroke-width", 2);
svg.append("line").attr("x1", 9).attr("x2", 9).attr("y1", 8).attr("y2", H).attr("stroke", "#000").attr("stroke-width", 2);
svg.append("text").attr("x", 23).attr("y", 30).attr("font-size", 18.5).attr("font-weight", "bold")
  .attr("textLength", 485).attr("lengthAdjust", "spacingAndGlyphs").attr("fill", "#000").text(figureTitle);

const plotL = 54, plotR = 546.7, boxH = 112;
const boxTops = [84, 264, 443.3];
const x = d3.scaleLinear().domain([1.9628e7, 3.0402e7]).range([plotL, plotR]);

function collect(posSets, lrrSets, calls) {
  const out = [];
  posSets.forEach((seg, s) => {
    const vals = lrrSets[s] || [];
    const n = Math.min(seg.length, vals.length);
    for (let j = 0; j < n; j++) {
      const p = seg[j];
      out.push({ pos: p * 1e6, v: vals[j], called: calls.some(r => p >= r[0] && p <= r[1]) });
    }
  });
  return out;
}

function drawPanel(i, lrr, cnLrr, calls, color) {
  const top = boxTops[i];
  const y = d3.scaleLinear().domain([-2.154, 2.154]).range([top + boxH, top]);
  const g = svg.append("g");

  const pts = collect(cnPositionsMb, cnLrr, calls).concat(collect(positionsMb, lrr, calls));

  g.append("rect").attr("x", plotL).attr("y", top).attr("width", plotR - plotL).attr("height", boxH)
    .attr("fill", "none").attr("stroke", "#6e6e6e").attr("stroke-width", 1);

  const circ = (sel) => sel.attr("cx", d => x(d.pos)).attr("cy", d => y(d.v)).attr("r", 1.7)
    .attr("fill", "none").attr("stroke-width", 1.05);

  g.append("g").selectAll("circle").data(pts.filter(d => !d.called)).join("circle")
    .call(circ).attr("stroke", "#000");

  g.append("line").attr("x1", plotL).attr("x2", plotR).attr("y1", y(0)).attr("y2", y(0))
    .attr("stroke", "#ff0000").attr("stroke-width", 1);

  g.append("g").selectAll("circle").data(pts.filter(d => d.called)).join("circle")
    .call(circ).attr("stroke", color);

  const gx = g.append("g").attr("transform", `translate(0,${top + boxH})`)
    .call(d3.axisBottom(x).tickValues(xTicks).tickFormat((d, k) => xTickLabels[k]).tickSize(3.5).tickSizeOuter(0));
  gx.attr("font-size", null).attr("font-family", null);
  gx.select(".domain").attr("d", `M${x(xTicks[0])},0H${x(xTicks[xTicks.length - 1])}`).attr("stroke", "#6e6e6e");
  gx.selectAll(".tick line").attr("stroke", "#6e6e6e");
  gx.selectAll(".tick text").attr("y", 12.8).attr("dy", 0).attr("font-size", 5.8).attr("fill", "#222");

  const gy = g.append("g").attr("transform", `translate(${plotL},0)`)
    .call(d3.axisLeft(y).tickValues(yTicks).tickFormat(d3.format("d")).tickSize(3.5).tickSizeOuter(0));
  gy.attr("font-size", null).attr("font-family", null);
  gy.select(".domain").attr("d", `M0,${y(yTicks[0])}V${y(yTicks[yTicks.length - 1])}`).attr("stroke", "#6e6e6e");
  gy.selectAll(".tick line").attr("stroke", "#6e6e6e");
  gy.selectAll(".tick text").attr("transform", "rotate(-90)").attr("x", 0).attr("y", -8.9).attr("dy", 0)
    .attr("text-anchor", "middle").attr("font-size", 5.8).attr("fill", "#222");

  g.append("text").attr("x", (plotL + plotR) / 2).attr("y", top - 12.2).attr("text-anchor", "middle")
    .attr("font-size", 7).attr("font-weight", "bold").attr("fill", "#000").text(panelTitles[i]);
  g.append("text").attr("x", (plotL + plotR) / 2).attr("y", top + boxH + 28).attr("text-anchor", "middle")
    .attr("font-size", 5.9).attr("fill", "#000").text(xLabel);
  g.append("text").attr("transform", `translate(31.8,${top + boxH / 2}) rotate(-90)`).attr("text-anchor", "middle")
    .attr("font-size", 6.5).attr("fill", "#000").text(yLabel);
}

drawPanel(0, lrr289M, cnLrr289M, calls289M, callColors[0]);
drawPanel(1, lrr2M38, cnLrr2M38, calls2M38, callColors[1]);
drawPanel(2, lrr8U7L, cnLrr8U7L, calls8U7L, callColors[2]);
</script>
</body></html>
